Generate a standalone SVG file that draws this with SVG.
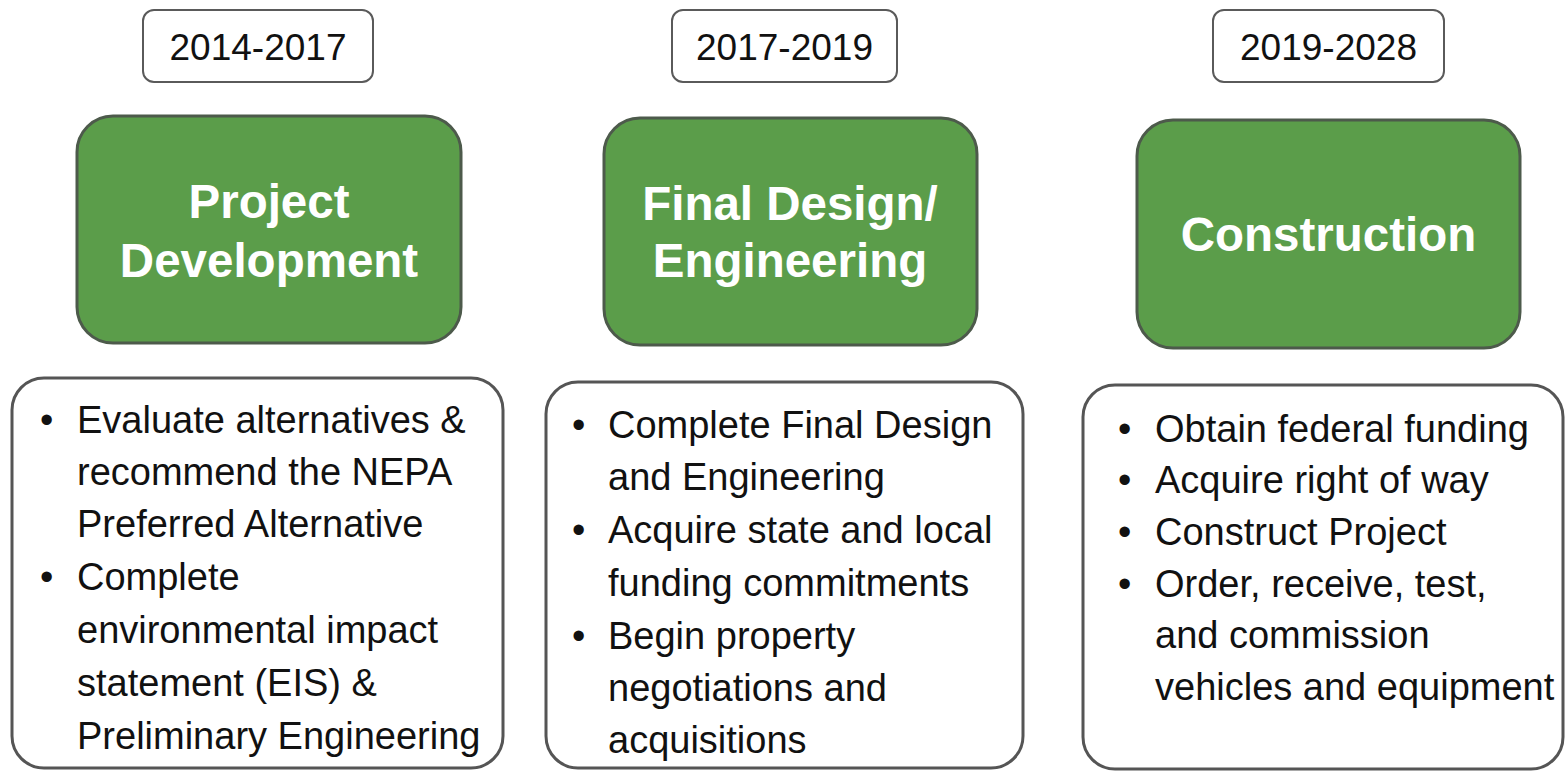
<svg xmlns="http://www.w3.org/2000/svg" width="1566" height="773" viewBox="0 0 1566 773">
  <style>
    .year-box { fill: #ffffff; stroke: #5a5a5a; stroke-width: 2; }
    .year { font-family: "Liberation Sans", Arial, sans-serif; font-size: 37px; fill: #111111; text-anchor: middle; }
    .phase-box { fill: #5b9d4a; stroke: #4d5a4b; stroke-width: 3; }
    .phase { font-family: "Liberation Sans", Arial, sans-serif; font-size: 47.5px; font-weight: bold; fill: #ffffff; text-anchor: middle; }
    .task-box { fill: #ffffff; stroke: #555555; stroke-width: 3; }
    .task { font-family: "Liberation Sans", Arial, sans-serif; font-size: 38px; fill: #111111; }
  </style>
  <rect width="1566" height="773" fill="#ffffff"/>

  <!-- Column 1: Project Development -->
  <g id="year-1">
    <rect class="year-box" x="143" y="10" width="230" height="72" rx="11"/>
    <text class="year" x="258" y="60">2014-2017</text>
  </g>
  <g id="phase-1">
    <rect class="phase-box" x="77" y="116" width="384" height="227" rx="36"/>
    <text class="phase" x="269" y="218">Project</text>
    <text class="phase" x="269" y="277">Development</text>
  </g>
  <g id="tasks-1">
    <rect class="task-box" x="12" y="378" width="491" height="390" rx="32"/>
    <text class="task" x="40" y="433">•</text>
    <text class="task" x="77" y="433">Evaluate alternatives &amp;</text>
    <text class="task" x="77" y="485">recommend the NEPA</text>
    <text class="task" x="77" y="537">Preferred Alternative</text>
    <text class="task" x="40" y="590">•</text>
    <text class="task" x="77" y="590">Complete</text>
    <text class="task" x="77" y="643">environmental impact</text>
    <text class="task" x="77" y="696">statement (EIS) &amp;</text>
    <text class="task" x="77" y="749">Preliminary Engineering</text>
  </g>

  <!-- Column 2: Final Design / Engineering -->
  <g id="year-2">
    <rect class="year-box" x="672" y="10" width="225" height="72" rx="11"/>
    <text class="year" x="784.5" y="60">2017-2019</text>
  </g>
  <g id="phase-2">
    <rect class="phase-box" x="604" y="118" width="373" height="227" rx="36"/>
    <text class="phase" x="790" y="220">Final Design/</text>
    <text class="phase" x="790" y="277">Engineering</text>
  </g>
  <g id="tasks-2">
    <rect class="task-box" x="546" y="382" width="477" height="386" rx="32"/>
    <text class="task" x="572" y="438">•</text>
    <text class="task" x="608" y="438">Complete Final Design</text>
    <text class="task" x="608" y="490">and Engineering</text>
    <text class="task" x="572" y="543">•</text>
    <text class="task" x="608" y="543">Acquire state and local</text>
    <text class="task" x="608" y="596">funding commitments</text>
    <text class="task" x="572" y="649">•</text>
    <text class="task" x="608" y="649">Begin property</text>
    <text class="task" x="608" y="701">negotiations and</text>
    <text class="task" x="608" y="753">acquisitions</text>
  </g>

  <!-- Column 3: Construction -->
  <g id="year-3">
    <rect class="year-box" x="1213" y="10" width="231" height="72" rx="11"/>
    <text class="year" x="1328.5" y="60">2019-2028</text>
  </g>
  <g id="phase-3">
    <rect class="phase-box" x="1137" y="120" width="383" height="228" rx="36"/>
    <text class="phase" x="1328.5" y="251">Construction</text>
  </g>
  <g id="tasks-3">
    <rect class="task-box" x="1083" y="385" width="480" height="384" rx="32"/>
    <text class="task" x="1118" y="442">•</text>
    <text class="task" x="1155" y="442">Obtain federal funding</text>
    <text class="task" x="1118" y="493">•</text>
    <text class="task" x="1155" y="493">Acquire right of way</text>
    <text class="task" x="1118" y="545">•</text>
    <text class="task" x="1155" y="545">Construct Project</text>
    <text class="task" x="1118" y="597">•</text>
    <text class="task" x="1155" y="597">Order, receive, test,</text>
    <text class="task" x="1155" y="648">and commission</text>
    <text class="task" x="1155" y="700">vehicles and equipment</text>
  </g>

  <!-- No connectors between the columns -->
  <g id="connectors"/>
</svg>
